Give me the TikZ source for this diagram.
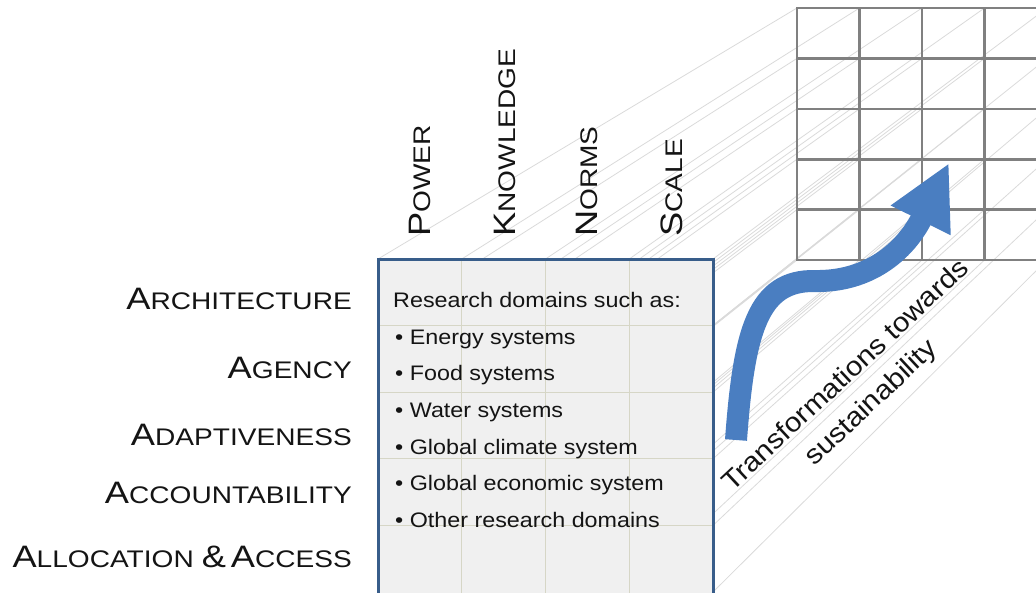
\documentclass[tikz,border=0pt]{standalone}
\usepackage{fontspec}
\setmainfont{Liberation Sans}
\usetikzlibrary{arrows.meta}

\definecolor{boxblue}{RGB}{56,93,138}
\definecolor{arrowblue}{RGB}{74,126,193}
\definecolor{cellline}{RGB}{214,214,198}
\definecolor{boxfill}{RGB}{240,240,240}
\definecolor{gridgray}{RGB}{128,128,128}
\definecolor{rayline}{RGB}{218,218,218}
\definecolor{inkblack}{RGB}{20,20,20}

% small caps made by hand: large first letter, smaller rest
\newcommand{\fakesc}[2]{{\fontsize{31}{31}\selectfont #1}{\fontsize{24}{24}\selectfont #2}}

\begin{document}
\begin{tikzpicture}[x=1pt,y=-1pt,
    rowlabel/.style={anchor=base east, inner sep=0pt, text=inkblack, xscale=1.17},
    collabel/.style={anchor=base west, inner sep=0pt, text=inkblack, rotate=90, xscale=1.17},
    itemtext/.style={anchor=base west, inner sep=0pt, text=inkblack, xscale=1.11,
        font=\fontsize{21}{21}\selectfont},
    ray/.style={draw=rayline, line width=0.8pt},
    backgrid/.style={draw=gridgray, line width=2.6pt}]
    \useasboundingbox (0,0) rectangle (1036,592);
    \clip (0,0) rectangle (1036,592);

    % rays from the front frame to the back frame
    \foreach \i in {0,...,4}
        \foreach \j in {0,...,5}
            \draw[ray] ({378+83.75*\i},{259+66.6*\j}) -- ({797+62.5*\i},{8+50.4*\j});

    % back frame
    \foreach \i in {1,...,3}
        \draw[backgrid] ({797+62.5*\i},8) -- ({797+62.5*\i},260);
    \foreach \j in {1,...,4}
        \draw[backgrid] (797,{8+50.4*\j}) -- (1048,{8+50.4*\j});
    \draw[backgrid] (797,8) rectangle (1048,260);

    % front frame
    \fill[boxfill] (378,259) rectangle (713,596);
    \foreach \i in {1,...,3}
        \draw[cellline, line width=0.9pt] ({378+83.75*\i},259) -- ({378+83.75*\i},596);
    \foreach \j in {1,...,4}
        \draw[cellline, line width=0.9pt] (378,{259+66.6*\j}) -- (713,{259+66.6*\j});
    \draw[boxblue, line width=3pt] (378,259) rectangle (713,596);

    \node[itemtext] (head) at (393,307.5) {Research domains such as:};
    \foreach \t [count=\k] in {Energy systems, Food systems, Water systems,
        Global climate system, Global economic system, Other research domains}
        \node[itemtext] (item\k) at (395,{307.5+36.67*\k}) {\textbullet\ \t};

    % row labels
    \node[rowlabel] (arch) at (352,309) {\fakesc{A}{RCHITECTURE}};
    \node[rowlabel] (agen) at (352,378) {\fakesc{A}{GENCY}};
    \node[rowlabel] (adap) at (352,445) {\fakesc{A}{DAPTIVENESS}};
    \node[rowlabel] (acco) at (352,503) {\fakesc{A}{CCOUNTABILITY}};
    \node[rowlabel] (allo) at (352,567)
        {\fakesc{A}{LLOCATION}\hspace{7pt}\fakesc{\&\hspace{4pt}A}{CCESS}};

    % column labels
    \node[collabel] (power) at (430,237) {\fakesc{P}{OWER}};
    \node[collabel] (know) at (515,237) {\fakesc{K}{NOWLEDGE}};
    \node[collabel] (norms) at (597,237) {\fakesc{N}{ORMS}};
    \node[collabel] (scale) at (682,237) {\fakesc{S}{CALE}};

    % transformation arrow
    \draw[arrowblue, line width=22pt, -{Triangle[length=64pt,width=62pt]}]
        (736,440) .. controls (744,330) and (758,280) .. (815,281)
        .. controls (868,282) and (905,252) .. (949,163);
    \node[rotate=43, align=center, text=inkblack, xscale=1.1,
        font=\fontsize{27}{37}\selectfont] (trans) at (859,390)
        {Transformations towards\\sustainability};
\end{tikzpicture}
\end{document}
